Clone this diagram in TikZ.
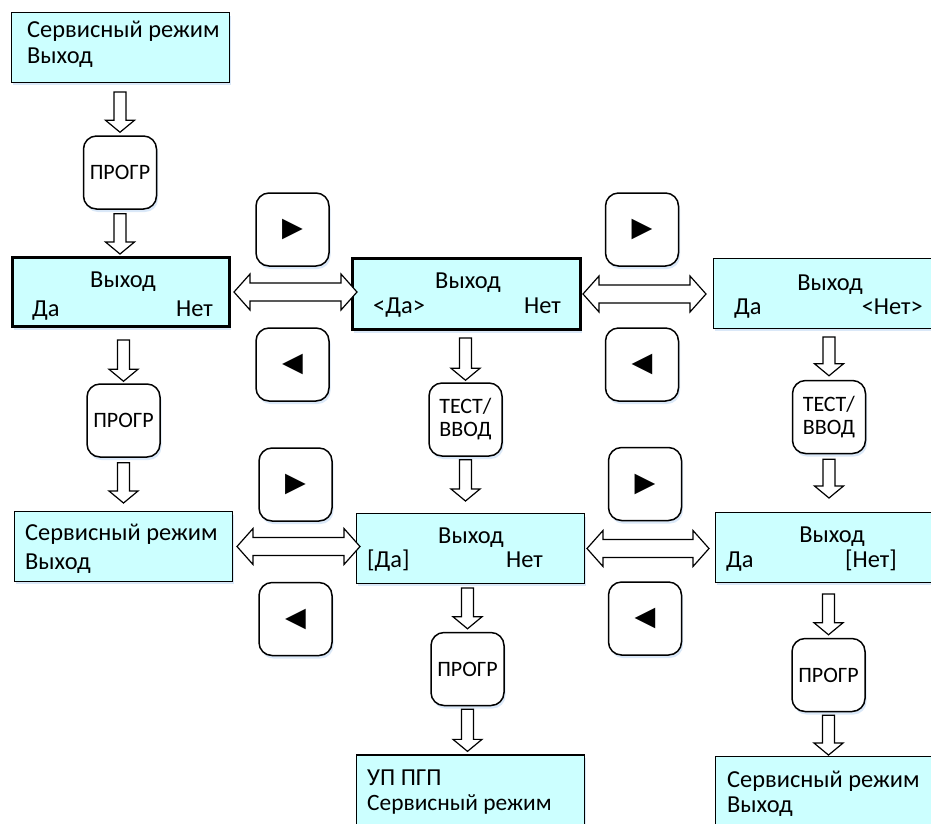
\documentclass[tikz,border=0pt]{standalone}
\usepackage{fontspec}
\setmainfont{Carlito}
\newfontfamily\symf{DejaVu Sans}
\usetikzlibrary{calc,shadows}
\definecolor{lcd}{RGB}{204,255,255}
\definecolor{shadowc}{RGB}{150,190,235}
\tikzset{
  shd/.style={drop shadow={shadow xshift=1.5pt,shadow yshift=-3pt,fill=shadowc,opacity=0.35}},
  thin/.style={rectangle,draw=black,fill=lcd,line width=1.3pt,inner sep=0pt,shd},
  thick/.style={thin,line width=3pt},
  btn/.style={rectangle,rounded corners=13pt,draw=black,fill=white,line width=1.5pt,inner sep=0pt,shd,
              minimum width=73pt,minimum height=73pt,font=\fontsize{22}{23}\selectfont},
  keybtn/.style={btn,font=\symf\fontsize{27}{27}\selectfont},
  txt/.style={inner sep=0pt,font=\fontsize{24.4}{28}\selectfont},
  txts/.style={inner sep=0pt,font=\fontsize{23.4}{27}\selectfont},
  blk/.style={draw=black,fill=white,line width=1.2pt,line join=miter}
}
% vertical hollow block arrow: from, to, x-reference node, top gap, bottom gap
\newcommand\dnarr[5]{%
  \draw[blk] let \p1=(#1.south), \p2=(#2.north), \p3=(#3.center) in
   ({\x3-6pt},{\y1-#4pt}) -- ({\x3+6pt},{\y1-#4pt}) -- ({\x3+6pt},{\y2+#5pt+12pt})
   -- ({\x3+14.5pt},{\y2+#5pt+12pt}) -- ({\x3},{\y2+#5pt}) -- ({\x3-14.5pt},{\y2+#5pt+12pt})
   -- ({\x3-6pt},{\y2+#5pt+12pt}) -- cycle;}
% horizontal hollow double arrow: left node, right node, left offset, right offset (signed)
\newcommand\hdarr[4]{%
  \draw[blk] let \p1=(#1.east), \p2=(#2.west) in
   ({\x1#3pt},\y1) -- ({\x1#3pt+16pt},{\y1+18pt}) -- ({\x1#3pt+16pt},{\y1+9pt})
   -- ({\x2#4pt-16pt},{\y1+9pt}) -- ({\x2#4pt-16pt},{\y1+18pt}) -- ({\x2#4pt},\y1)
   -- ({\x2#4pt-16pt},{\y1-18pt}) -- ({\x2#4pt-16pt},{\y1-9pt}) -- ({\x1#3pt+16pt},{\y1-9pt})
   -- ({\x1#3pt+16pt},{\y1-18pt}) -- cycle;}
\begin{document}
\begin{tikzpicture}[x=1pt,y=-1pt]
\useasboundingbox[fill=white] (0,0) rectangle (931,823);

% ---------- left column ----------
\node[thin,minimum width=217.7pt,minimum height=69.7pt] (b1) at (120.5,47.5) {};
\node[txt,anchor=base west] (b1t1) at (27,37) {Сервисный режим};
\node[txt,anchor=base west] (b1t2) at (27,63) {Выход};

\node[btn] (p1) at (120,172.5) {ПРОГР};

\node[thick,minimum width=217pt,minimum height=69pt] (b2) at (121,292) {};
\node[txt,anchor=base] (b2t1) at (123,287) {Выход};
\node[txt,anchor=base west] (b2t2) at (32,316) {Да};
\node[txt,anchor=base east] (b2t3) at (213,316) {Нет};

\node[btn] (p2) at (123.5,420.5) {ПРОГР};

\node[thin,minimum width=217.7pt,minimum height=69.7pt] (b3) at (123.5,546.5) {};
\node[txt,anchor=base west] (b3t1) at (25,540) {Сервисный режим};
\node[txt,anchor=base west] (b3t2) at (25,569) {Выход};

% ---------- middle column ----------
\node[thick,minimum width=228pt,minimum height=71pt] (m1) at (466.5,294) {};
\node[txt,anchor=base] (m1t1) at (468,288) {Выход};
\node[txt,anchor=base west] (m1t2) at (373,313) {<Да>};
\node[txt,anchor=base east] (m1t3) at (561,313) {Нет};

\node[btn,align=left] (t1) at (465.5,419.5) {ТЕСТ/\\ВВОД};

\node[thin,minimum width=227.7pt,minimum height=69.7pt] (m2) at (470.5,548.5) {};
\node[txt,anchor=base] (m2t1) at (471,543) {Выход};
\node[txt,anchor=base west] (m2t2) at (367,567) {[Да]};
\node[txt,anchor=base east] (m2t3) at (543,567) {Нет};

\node[btn] (p3) at (467.5,669) {ПРОГР};

\node[thin,minimum width=227.7pt,minimum height=100pt] (m3) at (470.5,805) {};
\node[txt,anchor=base west] (m3t1) at (367,785) {УП ПГП};
\node[txts,anchor=base west] (m3t2) at (367,810) {Сервисный режим};

% ---------- right column ----------
\node[thin,minimum width=230.7pt,minimum height=69.7pt] (r1) at (829,293.5) {};
\node[txt,anchor=base] (r1t1) at (830,290) {Выход};
\node[txt,anchor=base west] (r1t2) at (734,314) {Да};
\node[txt,anchor=base east] (r1t3) at (923,314) {<Нет>};

\node[btn,align=left] (t2) at (829,417) {ТЕСТ/\\ВВОД};

\node[thin,minimum width=228.7pt,minimum height=69.7pt] (r2) at (830,547.5) {};
\node[txt,anchor=base] (r2t1) at (832,542) {Выход};
\node[txt,anchor=base west] (r2t2) at (726,567) {Да};
\node[txt,anchor=base east] (r2t3) at (897,567) {[Нет]};

\node[btn] (p4) at (828.5,675) {ПРОГР};

\node[thin,minimum width=228.7pt,minimum height=100pt] (r3) at (830,806.7) {};
\node[txt,anchor=base west] (r3t1) at (727,787) {Сервисный режим};
\node[txt,anchor=base west] (r3t2) at (727,812) {Выход};

% ---------- arrow keys ----------
\node[keybtn] (k1r) at (292.5,229.5) {▶};
\node[keybtn] (k1l) at (292.5,364.5) {◀};
\node[keybtn] (k2r) at (642,229.5) {▶};
\node[keybtn] (k2l) at (642,364.5) {◀};
\node[keybtn] (k3r) at (295.5,484.5) {▶};
\node[keybtn] (k3l) at (295.5,619) {◀};
\node[keybtn] (k4r) at (645,484) {▶};
\node[keybtn] (k4l) at (645,618.5) {◀};

% ---------- vertical arrows ----------
\dnarr{b1}{p1}{p1}{9}{3}
\dnarr{p1}{b2}{p1}{4}{2}
\dnarr{b2}{p2}{p2}{12}{2}
\dnarr{p2}{b3}{p2}{5}{8}
\dnarr{m1}{t1}{t1}{7}{2}
\dnarr{t1}{m2}{t1}{3}{12}
\dnarr{m2}{p3}{p3}{4}{3}
\dnarr{p3}{m3}{p3}{3}{3}
\dnarr{r1}{t2}{t2}{8}{4}
\dnarr{t2}{r2}{t2}{5}{14}
\dnarr{r2}{p4}{p4}{11}{3}
\dnarr{p4}{r3}{p4}{3}{1}

% ---------- horizontal double arrows ----------
\hdarr{b2}{m1}{+3}{+6}
\hdarr{m1}{r1}{+1}{-7}
\hdarr{b3}{m2}{+4}{+4}
\hdarr{m2}{r2}{+2}{-6}
\end{tikzpicture}
\end{document}
